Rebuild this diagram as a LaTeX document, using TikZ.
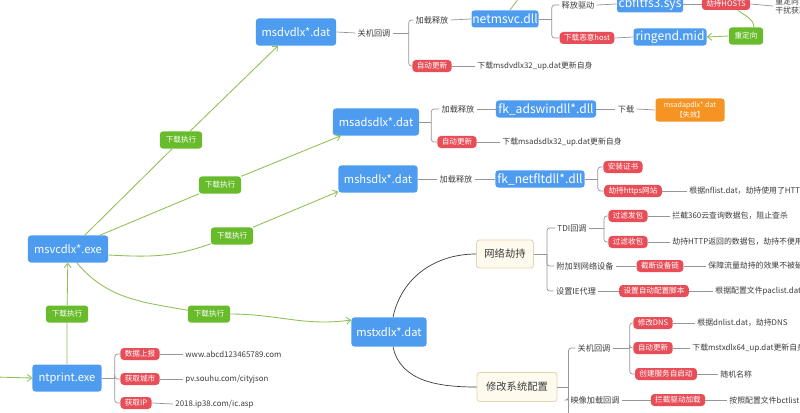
\documentclass[tikz,border=0pt]{standalone}
\usepackage{fontspec}
\setmainfont{Noto Sans CJK SC}
\usetikzlibrary{positioning}
\usetikzlibrary{arrows.meta}

\definecolor{fileblue}{RGB}{78,156,240}
\definecolor{pillred}{RGB}{232,78,88}
\definecolor{taggreen}{RGB}{104,188,44}
\definecolor{flowgreen}{RGB}{140,192,82}
\definecolor{boxorange}{RGB}{245,148,34}
\definecolor{creamfill}{RGB}{255,250,238}
\definecolor{creamline}{RGB}{230,212,176}
\definecolor{branchgray}{RGB}{150,150,150}
\definecolor{textgray}{RGB}{60,60,60}

\tikzset{
 bignode/.style={fill=fileblue,text=white,rounded corners=2pt,inner sep=0pt,minimum height=0.675cm,font=\fontsize{7.9}{9}\selectfont},
 dllnode/.style={fill=fileblue,text=white,rounded corners=2pt,inner sep=0pt,minimum height=0.425cm,font=\fontsize{8.6}{10}\selectfont},
 redpill/.style={fill=pillred,text=white,rounded corners=2.5pt,inner xsep=0.11cm,inner ysep=0pt,minimum height=0.3cm,font=\fontsize{5.4}{6}\selectfont},
 greenpill/.style={fill=taggreen,text=white,rounded corners=2pt,inner sep=0pt,minimum width=1.05cm,minimum height=0.425cm,font=\fontsize{5.4}{6}\selectfont},
 orangebox/.style={fill=boxorange,text=white,rounded corners=2pt,inner sep=0pt,minimum width=1.725cm,minimum height=0.575cm,align=center,font=\fontsize{5}{6.5}\selectfont},
 themebox/.style={fill=creamfill,draw=creamline,line width=0.6pt,text=textgray,rounded corners=2pt,inner sep=0pt,minimum height=0.7cm,font=\fontsize{7.3}{9}\selectfont},
 steptext/.style={text=textgray,inner xsep=1.5pt,inner ysep=1pt,font=\fontsize{5.8}{7}\selectfont},
 leaftext/.style={text=textgray,anchor=west,inner xsep=1.5pt,inner ysep=1pt,align=left,font=\fontsize{5.6}{7}\selectfont},
 flow/.style={draw=flowgreen,line width=0.6pt,-{Straight Barb[length=3pt,width=5pt]}},
 flowline/.style={draw=flowgreen,line width=0.6pt},
 branch/.style={draw=branchgray,line width=0.5pt,rounded corners=2pt},
 hub/.style={draw=textgray,line width=0.5pt}
}

\begin{document}
\begin{tikzpicture}[x=0.025cm,y=-0.025cm]
 \fill[white] (0,0) rectangle (800,413);
 \useasboundingbox (0,0) rectangle (800,413);

 \node[bignode,minimum width=2cm] (msvc) at (68,249) {msvcdlx*.exe};
 \node[bignode,minimum width=1.725cm] (ntp) at (67,378) {ntprint.exe};
 \node[bignode,minimum width=2cm] (msdv) at (296,32) {msdvdlx*.dat};
 \node[bignode,minimum width=2.15cm] (msads) at (376,122) {msadsdlx*.dat};
 \node[bignode,minimum width=1.975cm] (mshs) at (378,179) {mshsdlx*.dat};
 \node[bignode,minimum width=1.875cm,minimum height=0.725cm] (mstx) at (389,332) {mstxdlx*.dat};

 \node[dllnode,minimum width=1.675cm] (netmsvc) at (505,19) {netmsvc.dll};
 \node[dllnode,minimum width=1.65cm] (cbf) at (650,4) {cbfltfs3.sys};
 \node[dllnode,minimum width=1.825cm] (ring) at (670,37) {ringend.mid};
 \node[dllnode,minimum width=2.5cm] (adsw) at (546,109) {fk\_adswindll*.dll};
 \node[dllnode,minimum width=2.225cm] (netflt) at (540,179) {fk\_netfltdll*.dll};

 \node[greenpill] (exec1) at (181,140) {下载执行};
 \node[greenpill] (exec2) at (220,185) {下载执行};
 \node[greenpill] (exec3) at (232,236) {下载执行};
 \node[greenpill] (exec4) at (209,314) {下载执行};
 \node[greenpill] (exec5) at (67,314) {下载执行};
 \node[greenpill,minimum width=0.85cm] (redir) at (746,36) {重定向};

 \node[orangebox] (adapdlx) at (690,110) {msadapdlx*.dat\\【失效】};

 \node[themebox,minimum width=1.425cm] (hijack) at (505,254) {网络劫持};
 \node[themebox,minimum width=2cm,minimum height=0.725cm] (sysconf) at (517,387) {修改系统配置};

 % msdvdlx
 \node[steptext] (dvoff) at (374,33) {关机回调};
 \node[steptext] (dvload) at (432,20) {加载释放};
 \node[redpill] (dvupd) at (432,66) {自动更新};
 \node[leaftext] (dvupdtxt) at (475,66) {下载msdvdlx32\_up.dat更新自身};
 \node[steptext] (drvrel) at (578,5) {释放驱动};
 \node[redpill] (hosts) at (726,4) {劫持HOSTS};
 \node[leaftext] (hoststxt) at (773,6) {重定向\\干扰获取};
 \node[redpill] (dlhost) at (587,38) {下载恶意host};

 \draw[branch] (msdv.east) -- (dvoff.west);
 \draw[branch] (dvoff.east) -- ++(16,0) coordinate (dvj);
 \draw[branch] (dvj) |- (dvload.west);
 \draw[branch] (dvj) |- (dvupd.west);
 \draw[branch] (dvload.east) -- (netmsvc.west);
 \draw[branch] (dvupd.east) -- (dvupdtxt.west);
 \draw[branch] (netmsvc.east) -- ++(13,0) coordinate (nmj);
 \draw[branch] (nmj) |- (drvrel.west);
 \draw[branch] (nmj) |- (dlhost.west);
 \draw[branch] (drvrel.east) -- (cbf.west);
 \draw[branch] (cbf.east) -- (hosts.west);
 \draw[branch] (hosts.east) -- (hoststxt.west);
 \draw[branch] (dlhost.east) -- (ring.west);
 \draw[flowline] ([xshift=0.3cm]hosts.south) to[out=-40,in=95] ([xshift=0.2cm]redir.north);
 \draw[flow] (redir.west) -- (ring.east);
 \coordinate (above) at (522,-6);
 \draw[flowline] ([xshift=0.12cm]netmsvc.north) -- (above);

 % msadsdlx
 \node[steptext] (adload) at (458,109) {加载释放};
 \node[redpill] (adupd) at (457,142) {自动更新};
 \node[leaftext] (adupdtxt) at (500,142) {下载msadsdlx32\_up.dat更新自身};
 \node[steptext] (addown) at (626,109) {下载};

 \draw[branch] (msads.east) -- ++(12,0) coordinate (adj);
 \draw[branch] (adj) |- (adload.west);
 \draw[branch] (adj) |- (adupd.west);
 \draw[branch] (adload.east) -- (adsw.west);
 \draw[branch] (adsw.east) -- (addown.west);
 \draw[branch] (addown.east) -- (adapdlx.west);
 \draw[branch] (adupd.east) -- (adupdtxt.west);

 % mshsdlx
 \node[steptext] (hsload) at (456,179) {加载释放};
 \node[redpill] (cert) at (623,167) {安装证书};
 \node[redpill] (https) at (633,191) {劫持https网站};
 \node[leaftext] (httpstxt) at (687,191) {根据nflist.dat，劫持使用了HTTPS的网站};

 \draw[branch] (mshs.east) -- (hsload.west);
 \draw[branch] (hsload.east) -- (netflt.west);
 \draw[branch] (netflt.east) -- ++(13,0) coordinate (nfj);
 \draw[branch] (nfj) |- (cert.west);
 \draw[branch] (nfj) |- (https.west);
 \draw[branch] (https.east) -- (httpstxt.west);

 % mstxdlx
 \draw[hub] ([xshift=0.1cm]mstx.north) to[out=78,in=180] (hijack.west);
 \draw[hub] ([xshift=0.1cm]mstx.south) to[out=-78,in=180] (sysconf.west);

 \node[steptext] (tdi) at (572,228) {TDI回调};
 \node[steptext] (attach) at (585,266) {附加到网络设备};
 \node[steptext] (ieproxy) at (576,291) {设置IE代理};
 \node[redpill] (fsend) at (628,216) {过滤发包};
 \node[redpill] (frecv) at (628,242) {过滤收包};
 \node[redpill] (cutchain) at (660,266) {截断设备链};
 \node[redpill] (pac) at (654,291) {设置自动配置脚本};
 \node[leaftext] (fsendtxt) at (670,216) {拦截360云查询数据包，阻止查杀};
 \node[leaftext] (frecvtxt) at (670,242) {劫持HTTP返回的数据包，劫持不便用};
 \node[leaftext] (cuttxt) at (706,266) {保障流量劫持的效果不被破坏};
 \node[leaftext] (pactxt) at (713,291) {根据配置文件paclist.dat};

 \draw[branch] (hijack.east) -- ++(13,0) coordinate (hjj);
 \draw[branch] (hjj) |- (tdi.west);
 \draw[branch] (hjj) |- (attach.west);
 \draw[branch] (hjj) |- (ieproxy.west);
 \draw[branch] (tdi.east) -- ++(15,0) coordinate (tdj);
 \draw[branch] (tdj) |- (fsend.west);
 \draw[branch] (tdj) |- (frecv.west);
 \draw[branch] (fsend.east) -- (fsendtxt.west);
 \draw[branch] (frecv.east) -- (frecvtxt.west);
 \draw[branch] (attach.east) -- (cutchain.west);
 \draw[branch] (cutchain.east) -- (cuttxt.west);
 \draw[branch] (ieproxy.east) -- (pac.west);
 \draw[branch] (pac.east) -- (pactxt.west);

 \node[steptext] (txoff) at (594,348) {关机回调};
 \node[steptext] (imgload) at (595,400) {映像加载回调};
 \node[redpill] (dns) at (653,323) {修改DNS};
 \node[redpill] (txupd) at (653,348) {自动更新};
 \node[redpill] (svc) at (666,374) {创建服务自启动};
 \node[redpill] (blkdrv) at (678,400) {拦截驱动加载};
 \node[leaftext] (dnstxt) at (695,323) {根据dnlist.dat，劫持DNS};
 \node[leaftext] (txupdtxt) at (690,348) {下载mstxdlx64\_up.dat更新自身};
 \node[leaftext] (svctxt) at (718,374) {随机名称};
 \node[leaftext] (blktxt) at (727,400) {按照配置文件bctlist.dat};
 \coordinate (below) at (568,420);

 \draw[branch] (sysconf.east) -- ++(11,0) coordinate (scj);
 \draw[branch] (scj) |- (txoff.west);
 \draw[branch] (scj) |- (imgload.west);
 \draw[branch] (scj) -- (scj |- below);
 \draw[branch] (txoff.east) -- ++(17,0) coordinate (txj);
 \draw[branch] (txj) |- (dns.west);
 \draw[branch] (txj) |- (txupd.west);
 \draw[branch] (txj) |- (svc.west);
 \draw[branch] (dns.east) -- (dnstxt.west);
 \draw[branch] (txupd.east) -- (txupdtxt.west);
 \draw[branch] (svc.east) -- (svctxt.west);
 \draw[branch] (imgload.east) -- (blkdrv.west);
 \draw[branch] (blkdrv.east) -- (blktxt.west);

 % ntprint
 \node[redpill] (report) at (140,354) {数据上报};
 \node[redpill] (city) at (140,379) {获取城市};
 \node[redpill] (getip) at (136,403) {获取IP};
 \node[leaftext] (reporttxt) at (183,354) {www.abcd123465789.com};
 \node[leaftext] (citytxt) at (183,379) {pv.souhu.com/cityjson};
 \node[leaftext] (iptxt) at (173,404) {2018.ip38.com/ic.asp};

 \draw[branch] (ntp.east) -- ++(13,0) coordinate (npj);
 \draw[branch] (npj) |- (report.west);
 \draw[branch] (npj) |- (city.west);
 \draw[branch] (npj) |- (getip.west);
 \draw[branch] (report.east) -- (reporttxt.west);
 \draw[branch] (city.east) -- (citytxt.west);
 \draw[branch] (getip.east) -- (iptxt.west);

 % green flows
 \coordinate (origin) at (-5,377);
 \draw[flow] (origin) -- (ntp.west);
 \draw[flow] (ntp) -- (exec5) -- (msvc);
 \draw[flow] ([xshift=0.42cm]msvc.north) -- (exec1) -- ([xshift=-0.45cm]msdv.south);
 \draw[flow] ([xshift=0.8cm]msvc.north) -- (exec2) -- ([xshift=0.2cm]msads.south west);
 \draw[flow] ([yshift=-0.15cm]msvc.east) to[out=-3,in=200] (exec3) -- ([yshift=0.03cm]mshs.south west);
 \draw[flow] ([xshift=0.22cm]msvc.south) to[out=-50,in=170] (exec4) to[out=0,in=188] ([yshift=0.3cm]mstx.west);
\end{tikzpicture}
\end{document}
